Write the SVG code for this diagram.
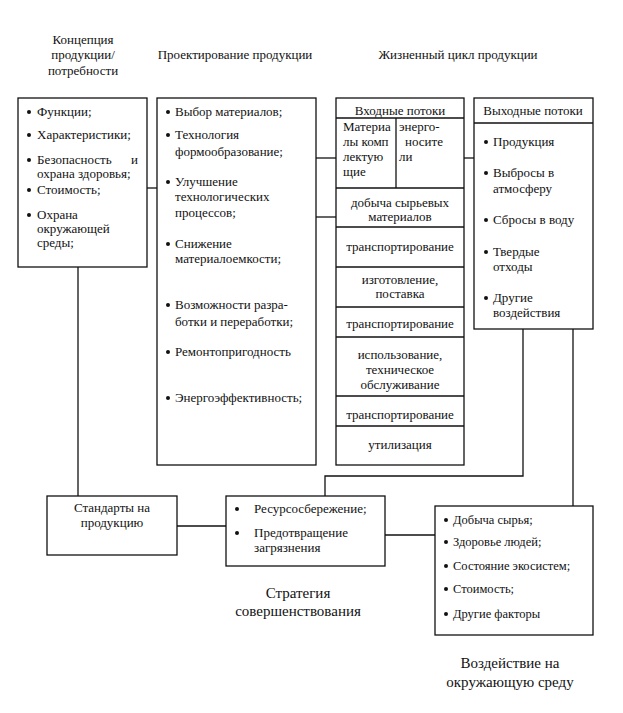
<svg xmlns="http://www.w3.org/2000/svg" width="623" height="713" viewBox="0 0 623 713">
<style>
text{font-family:"Liberation Serif","Times New Roman",serif;font-size:13px;fill:#111}
.c{text-anchor:middle}
.big{font-size:15px}
.sm{font-size:12.5px}
rect,line,polyline{fill:none;stroke:#111;stroke-width:1.3}
rect{fill:#fff}
rect.bg{stroke:none}
.b{fill:#111;stroke:none}
</style>
<rect class="bg" width="623" height="713"/>
<g id="titles">
<text class="c" x="83" y="44">Концепция</text>
<text class="c" x="83" y="59">продукции/</text>
<text class="c" x="83" y="75">потребности</text>
<text class="c" x="235" y="59">Проектирование продукции</text>
<text class="c" x="458" y="59">Жизненный цикл продукции</text>
</g>
<g id="connectors">
<line x1="147" y1="188" x2="157" y2="188"/>
<line x1="316" y1="158" x2="336" y2="158"/>
<line x1="316" y1="217" x2="336" y2="217"/>
<line x1="464" y1="158" x2="474" y2="158"/>
<line x1="78" y1="267" x2="78" y2="496"/>
<polyline points="523,329 523,476 325,476 325,496"/>
<line x1="573" y1="329" x2="573" y2="506"/>
<line x1="177" y1="526" x2="226" y2="526"/>
<line x1="385" y1="535" x2="435" y2="535"/>
</g>
<g id="concept">
<rect x="18" y="98" width="129" height="169"/>
<circle class="b" cx="29" cy="112" r="2"/><text x="37" y="116">Функции;</text>
<circle class="b" cx="29" cy="135" r="2"/><text x="37" y="139">Характеристики;</text>
<circle class="b" cx="29" cy="160" r="2"/><text x="37" y="164">Безопасность<tspan x="131">и</tspan></text>
<text x="37" y="178">охрана здоровья;</text>
<circle class="b" cx="29" cy="190" r="2"/><text x="37" y="194">Стоимость;</text>
<circle class="b" cx="29" cy="215" r="2"/><text x="37" y="219">Охрана</text>
<text x="37" y="233">окружающей</text>
<text x="37" y="247">среды;</text>
</g>
<g id="design">
<rect x="157" y="98" width="159" height="367"/>
<circle class="b" cx="168" cy="112" r="2"/><text x="175" y="116">Выбор материалов;</text>
<circle class="b" cx="168" cy="135" r="2"/><text x="175" y="139">Технология</text>
<text x="175" y="156">формообразование;</text>
<circle class="b" cx="168" cy="182" r="2"/><text x="175" y="186">Улучшение</text>
<text x="175" y="201">технологических</text>
<text x="175" y="217">процессов;</text>
<circle class="b" cx="168" cy="244" r="2"/><text x="175" y="248">Снижение</text>
<text x="175" y="263">материалоемкости;</text>
<circle class="b" cx="168" cy="305" r="2"/><text x="175" y="309">Возможности разра-</text>
<text x="175" y="326">ботки и переработки;</text>
<circle class="b" cx="168" cy="352" r="2"/><text x="175" y="356">Ремонтопригодность</text>
<circle class="b" cx="168" cy="398" r="2"/><text x="175" y="402">Энергоэффективность;</text>
</g>
<g id="inputs">
<rect x="336" y="98" width="128" height="367"/>
<line x1="336" y1="118" x2="464" y2="118"/>
<line x1="396" y1="118" x2="396" y2="188"/>
<line x1="336" y1="188" x2="464" y2="188"/>
<line x1="336" y1="227" x2="464" y2="227"/>
<line x1="336" y1="267" x2="464" y2="267"/>
<line x1="336" y1="307" x2="464" y2="307"/>
<line x1="336" y1="337" x2="464" y2="337"/>
<line x1="336" y1="396" x2="464" y2="396"/>
<line x1="336" y1="426" x2="464" y2="426"/>
<text class="c" x="400" y="115">Входные потоки</text>
<text x="343" y="131">Материа</text>
<text x="343" y="146">лы комп</text>
<text x="343" y="161">лектую</text>
<text x="343" y="176">щие</text>
<text x="399" y="131">энерго-</text>
<text x="405" y="146">носите</text>
<text x="399" y="161">ли</text>
<text class="c" x="400" y="207">добыча сырьевых</text>
<text class="c" x="400" y="221">материалов</text>
<text class="c" x="400" y="251">транспортирование</text>
<text class="c" x="400" y="284">изготовление,</text>
<text class="c" x="400" y="298">поставка</text>
<text class="c" x="400" y="328">транспортирование</text>
<text class="c" x="400" y="359">использование,</text>
<text class="c" x="400" y="374">техническое</text>
<text class="c" x="400" y="389">обслуживание</text>
<text class="c" x="400" y="419">транспортирование</text>
<text class="c" x="400" y="449">утилизация</text>
</g>
<g id="outputs">
<rect x="474" y="98" width="119" height="231"/>
<line x1="474" y1="123" x2="593" y2="123"/>
<text class="c" x="533" y="115">Выходные потоки</text>
<circle class="b" cx="486" cy="142" r="2"/><text x="493" y="146">Продукция</text>
<circle class="b" cx="486" cy="173" r="2"/><text x="493" y="177">Выбросы в</text>
<text x="493" y="193">атмосферу</text>
<circle class="b" cx="486" cy="220" r="2"/><text x="493" y="224">Сбросы в воду</text>
<circle class="b" cx="486" cy="252" r="2"/><text x="493" y="256">Твердые</text>
<text x="493" y="271">отходы</text>
<circle class="b" cx="486" cy="298" r="2"/><text x="493" y="302">Другие</text>
<text x="493" y="317">воздействия</text>
</g>
<g id="standards">
<rect x="47" y="496" width="130" height="59"/>
<text class="c" x="112" y="512">Стандарты на</text>
<text class="c" x="112" y="527">продукцию</text>
</g>
<g id="strategy">
<rect x="226" y="496" width="159" height="70"/>
<circle class="b" cx="237" cy="509" r="2"/><text x="254" y="513">Ресурсосбережение;</text>
<circle class="b" cx="237" cy="533" r="2"/><text x="254" y="537">Предотвращение</text>
<text x="254" y="552">загрязнения</text>
<text class="c big" x="298" y="598">Стратегия</text>
<text class="c big" x="298" y="616">совершенствования</text>
</g>
<g id="impact">
<rect x="435" y="506" width="158" height="129"/>
<circle class="b" cx="446" cy="520" r="2"/><text class="sm" x="453" y="524">Добыча сырья;</text>
<circle class="b" cx="446" cy="542" r="2"/><text class="sm" x="453" y="546">Здоровье людей;</text>
<circle class="b" cx="446" cy="566" r="2"/><text class="sm" x="453" y="570">Состояние экосистем;</text>
<circle class="b" cx="446" cy="589" r="2"/><text class="sm" x="453" y="593">Стоимость;</text>
<circle class="b" cx="446" cy="614" r="2"/><text class="sm" x="453" y="618">Другие факторы</text>
<text class="c big" x="510" y="668">Воздействие на</text>
<text class="c big" x="510" y="687">окружающую среду</text>
</g>
</svg>
